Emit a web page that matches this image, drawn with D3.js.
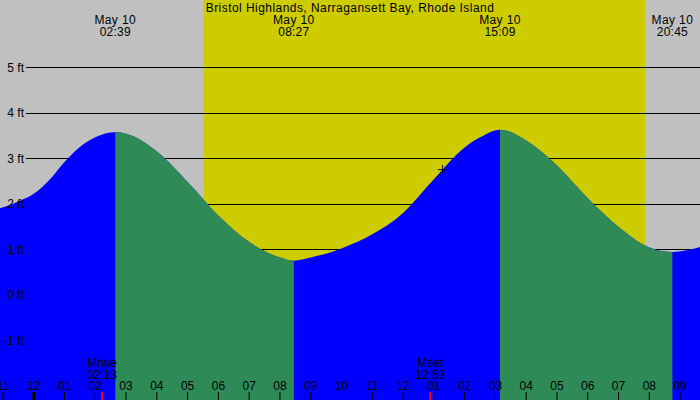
<!DOCTYPE html>
<html>
<head>
<meta charset="utf-8">
<script src="https://cdn.jsdelivr.net/npm/d3@7"></script>
<style>
  body { margin: 0; background: #fff; }
  svg text { font-family: "Liberation Sans", Arial, sans-serif; font-size: 12px; fill: #000; }
</style>
</head>
<body>
<svg id="chart" width="700" height="400"></svg>
<script>
// hours are counted from midnight, May 10
const title = "Bristol Highlands, Narragansett Bay, Rhode Island";

const tideHours = [-1.2, -0.5, 0, 0.5, 1, 1.5, 2, 2.65, 3, 4, 5, 6, 7, 8, 8.45,
                   9, 10, 11, 12, 13, 14, 14.5, 15.15, 16, 17, 18, 19, 20, 20.75, 21.3, 21.8];
const tideFeet = [1.88, 2.05, 2.22, 2.52, 2.92, 3.25, 3.46, 3.57, 3.54, 3.15, 2.48, 1.74, 1.16, 0.82, 0.75,
                  0.82, 1.02, 1.33, 1.8, 2.54, 3.24, 3.46, 3.63, 3.39, 2.84, 2.12, 1.49, 1.04, 0.94, 0.99, 1.08];

const extremeHours = [2.65, 8.45, 15.15, 20.75];
const extremeDates = ["May 10", "May 10", "May 10", "May 10"];
const extremeTimes = ["02:39", "08:27", "15:09", "20:45"];

const sunrise = 5.52, sunset = 19.86;

const moonHours = [2.217, 12.883];
const moonNames = ["Mrise", "Mset"];
const moonTimes = ["02:13", "12:53"];

const nowHour = 13.27, nowFeet = 2.75;

const feetTicks = [-1, 0, 1, 2, 3, 4, 5];
const hourTicks = d3.range(-1, 22);
const hourLabels = ["11", "12", "01", "02", "03", "04", "05", "06", "07", "08", "09", "10",
                    "11", "12", "01", "02", "03", "04", "05", "06", "07", "08", "09"];

const W = 700, H = 400;
const svg = d3.select("#chart");

const x = d3.scaleLinear().domain([-1.095, 21.647]).range([0, W]);
const y = d3.scaleLinear().domain([-1, 5]).range([340.3, 67.3]);

const tide = tideHours.map((h, i) => ({ h, v: tideFeet[i] }));

// night / day background
svg.append("rect").attr("width", W).attr("height", H).attr("fill", "#c0c0c0");
svg.append("rect")
    .attr("x", x(sunrise)).attr("y", 0)
    .attr("width", x(sunset) - x(sunrise)).attr("height", H)
    .attr("fill", "#cccc00");

// gridlines
svg.append("g").selectAll("line")
    .data(feetTicks)
    .enter().append("line")
    .attr("x1", 26).attr("x2", W)
    .attr("y1", d => Math.round(y(d)) + 0.5)
    .attr("y2", d => Math.round(y(d)) + 0.5)
    .attr("stroke", "#000").attr("stroke-width", 1);

// tide area: blue while rising, green while falling
const area = d3.area()
    .x(d => x(d.h))
    .y0(H)
    .y1(d => y(d.v))
    .curve(d3.curveMonotoneX);

svg.append("path").attr("d", area(tide)).attr("fill", "#0000ff");

const falling = [];
extremeHours.forEach((h, i) => {
    if (i + 1 < extremeHours.length && tideFeet[tideHours.indexOf(h)] > tideFeet[tideHours.indexOf(extremeHours[i + 1])])
        falling.push([h, extremeHours[i + 1]]);
});

const defs = svg.append("defs");
falling.forEach((f, i) => {
    defs.append("clipPath").attr("id", "fall" + i)
        .append("rect")
        .attr("x", x(f[0])).attr("y", 0)
        .attr("width", x(f[1]) - x(f[0])).attr("height", H);
    svg.append("path")
        .attr("d", area(tide))
        .attr("fill", "#2e8b57")
        .attr("clip-path", `url(#fall${i})`);
});

// y labels
svg.append("g").selectAll("text")
    .data(feetTicks)
    .enter().append("text")
    .attr("x", 24).attr("y", d => y(d) + 4.5)
    .attr("text-anchor", "end")
    .text(d => d + " ft");

// hour ticks
const axis = svg.append("g");
axis.selectAll("line")
    .data(hourTicks)
    .enter().append("line")
    .attr("x1", d => x(d)).attr("x2", d => x(d))
    .attr("y1", 392).attr("y2", H)
    .attr("stroke", "#000")
    .attr("stroke-width", d => d === 0 ? 3 : 1);
axis.selectAll("text")
    .data(hourTicks)
    .enter().append("text")
    .attr("x", d => x(d)).attr("y", 390)
    .attr("text-anchor", "middle")
    .text((d, i) => hourLabels[i]);

// moon rise / set
moonHours.forEach((h, i) => {
    svg.append("line")
        .attr("x1", x(h)).attr("x2", x(h))
        .attr("y1", 392).attr("y2", H)
        .attr("stroke", "#ff0000").attr("stroke-width", 2);
    svg.append("text").attr("x", x(h)).attr("y", 366.5)
        .attr("text-anchor", "middle").text(moonNames[i]);
    svg.append("text").attr("x", x(h)).attr("y", 378.5)
        .attr("text-anchor", "middle").text(moonTimes[i]);
});

// high / low labels
extremeHours.forEach((h, i) => {
    svg.append("text").attr("x", x(h)).attr("y", 24.3)
        .attr("text-anchor", "middle").style("letter-spacing", "0.4px").text(extremeDates[i]);
    svg.append("text").attr("x", x(h)).attr("y", 36)
        .attr("text-anchor", "middle").style("letter-spacing", "0.2px").text(extremeTimes[i]);
});

svg.append("text")
    .attr("x", W / 2).attr("y", 11.7)
    .attr("text-anchor", "middle")
    .style("letter-spacing", "0.45px")
    .text(title);

// current time marker
const mx = x(nowHour), my = y(nowFeet);
svg.append("path")
    .attr("d", `M${mx - 4},${my}H${mx + 5}M${mx + 0.5},${my - 4.5}V${my + 4.5}`)
    .attr("stroke", "#000").attr("stroke-width", 1).attr("fill", "none");
</script>
</body>
</html>
